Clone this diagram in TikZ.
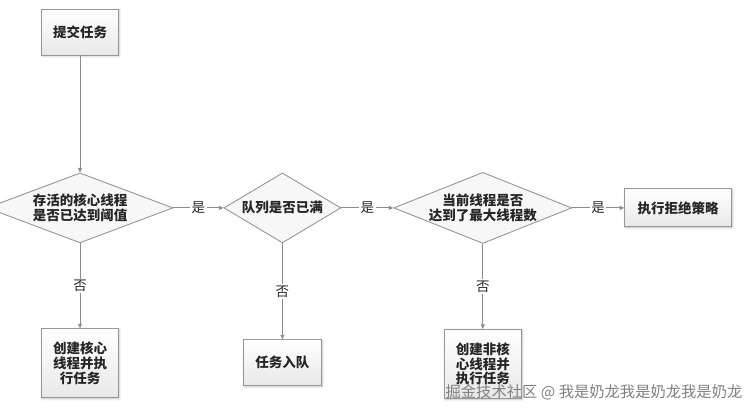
\documentclass[tikz,border=0pt]{standalone}
\usepackage{fontspec}
\setmainfont{Noto Sans CJK SC}
\usetikzlibrary{positioning, shapes.geometric, arrows.meta, shadows.blur}
\definecolor{LineGray}{RGB}{140,140,140}
\definecolor{EdgeGray}{RGB}{150,150,150}

\begin{document}
\begin{tikzpicture}[
  x=1pt, y=1pt,
  font=\fontsize{13.5pt}{15pt}\selectfont\bfseries,
  every node/.style={align=center},
  stepbox/.style={
    rectangle, draw=EdgeGray, line width=0.9pt,
    top color=white, bottom color=black!9, text=black!85,
    minimum width=77pt, minimum height=46pt, inner sep=2pt,
    blur shadow={shadow xshift=1pt, shadow yshift=-1pt,
                 shadow blur steps=4, shadow opacity=25}
  },
  decision/.style={
    diamond, draw=EdgeGray, line width=0.9pt, fill=black!3,
    text=black!85, inner sep=0pt, shape aspect=2.5, minimum height=70pt
  },
  arr/.style={-{Triangle[length=4.5pt, width=4pt]}, line width=0.9pt, draw=LineGray},
  tag/.style={fill=white, inner sep=1.5pt, text=black!85,
              font=\fontsize{13.5pt}{15pt}\selectfont}
]
\useasboundingbox (0,0) rectangle (753,-411);

% ================ 起点 ================
\node[stepbox] (submit) at (80,-32) {提交任务};

% ================ 三个判断 ================
\node[decision, below=117pt of submit, minimum width=186pt] (coreFull)
  {存活的核心线程\\是否已达到阈值};
\node[decision, right=50pt of coreFull, minimum width=117pt] (queueFull)
  {队列是否已满};
\node[decision, right=52pt of queueFull, minimum width=176pt] (maxFull)
  {当前线程是否\\达到了最大线程数};
\node[stepbox, right=52pt of maxFull, minimum width=107pt, minimum height=38pt] (reject)
  {执行拒绝策略};

% ================ 否：各自的处理 ================
\node[stepbox, below=85pt of coreFull, minimum height=69pt] (newCore)
  {创建核心\\线程并执\\行任务};
\node[stepbox, below=96pt of queueFull, minimum width=78pt] (enqueue)
  {任务入队};
\node[stepbox, below=85pt of maxFull, minimum height=69pt,
      font=\fontsize{13.5pt}{14.5pt}\selectfont\bfseries, yshift=0pt] (newExtra)
  {创建非核\\心线程并\\执行任务};

% ================ 连线 ================
\draw[arr] (submit) -- (coreFull);
\draw[arr] (coreFull) -- node[tag]{是} (queueFull);
\draw[arr] (queueFull) -- node[tag]{是} (maxFull);
\draw[arr] (maxFull) -- node[tag]{是} (reject);
\draw[arr] (coreFull) -- node[tag]{否} (newCore);
\draw[arr] (queueFull) -- node[tag]{否} (enqueue);
\draw[arr] (maxFull) -- node[tag]{否} (newExtra);

% ================ 水印 ================
\node[font=\fontsize{15.3pt}{17pt}\selectfont, text=black!50] (mark) at (594,-392)
  {掘金技术社区 @ 我是奶龙我是奶龙我是奶龙};
\end{tikzpicture}
\end{document}
